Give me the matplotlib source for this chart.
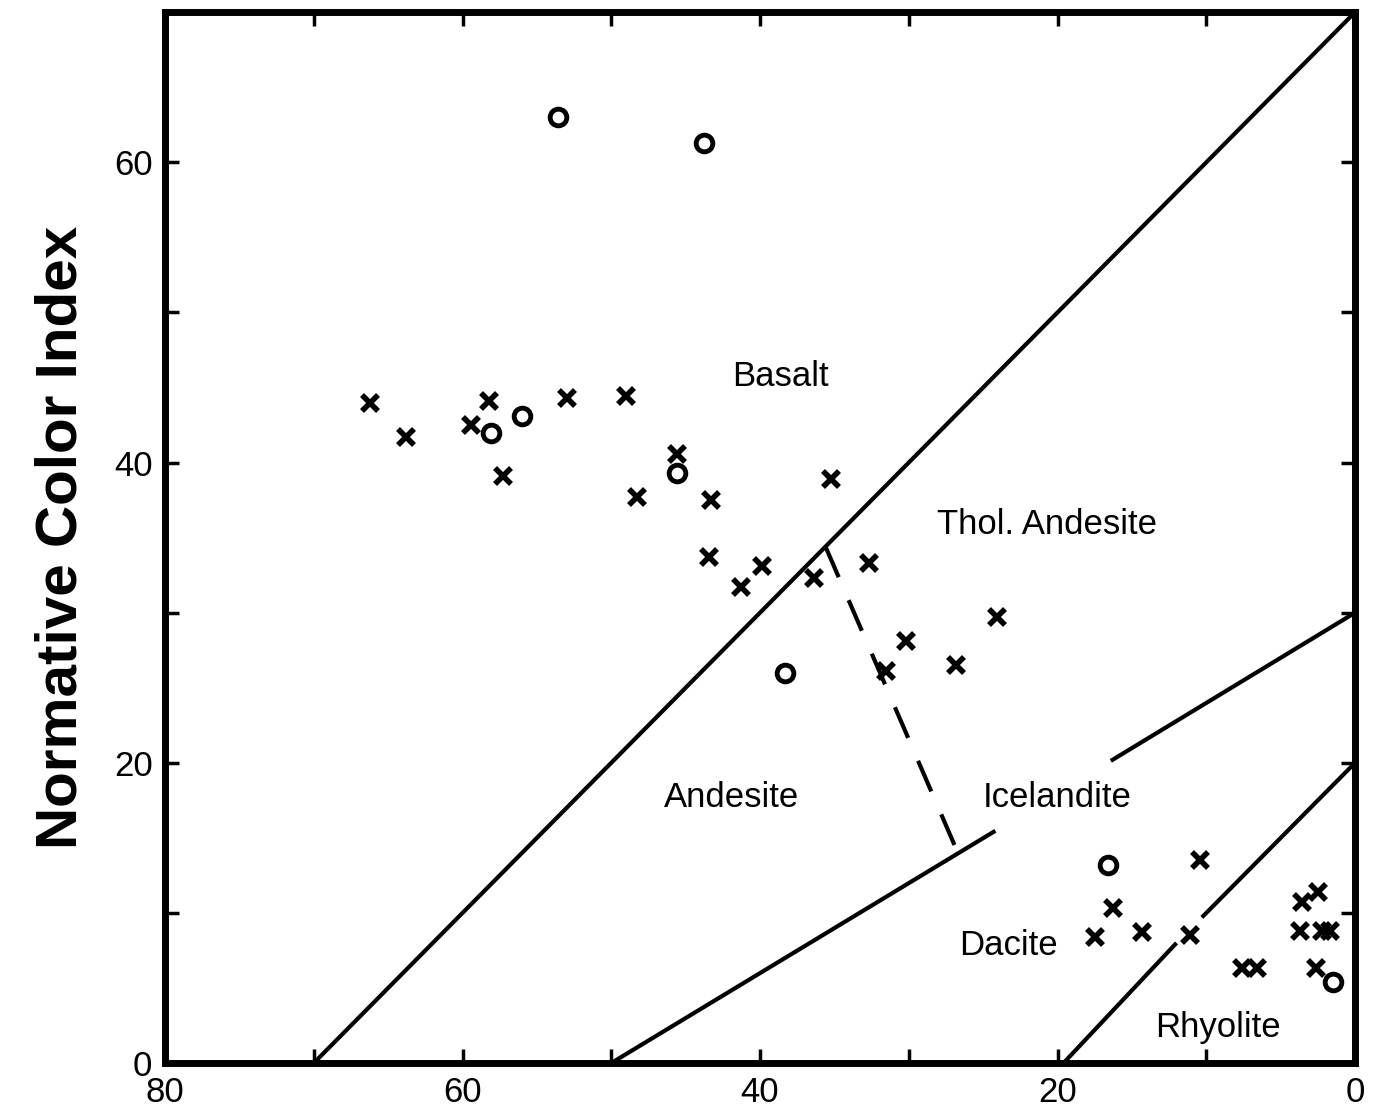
import matplotlib
matplotlib.use("Agg")
import matplotlib.pyplot as plt

# Data (x: normative plagioclase-ish axis reading, y: Normative Color Index)
cross_x = [66.2, 63.8, 59.4, 58.2, 57.3, 53.0, 49.0, 45.6, 48.3, 43.3, 43.4, 41.3,
           39.9, 35.2, 36.4, 32.7, 30.2, 31.5, 26.8, 24.1, 10.4, 16.3, 17.5, 14.3,
           11.1, 7.6, 6.6, 3.6, 2.5, 3.7, 2.2, 1.7, 2.6]
cross_y = [44.0, 41.7, 42.5, 44.1, 39.1, 44.3, 44.4, 40.6, 37.7, 37.5, 33.7, 31.7,
           33.1, 38.9, 32.3, 33.3, 28.1, 26.1, 26.5, 29.7, 13.5, 10.3, 8.4, 8.7,
           8.5, 6.3, 6.3, 10.7, 11.4, 8.8, 8.8, 8.8, 6.3]
circle_x = [53.6, 43.8, 58.1, 56.0, 45.6, 38.3, 16.6, 1.5]
circle_y = [63.0, 61.3, 42.0, 43.1, 39.3, 26.0, 13.2, 5.4]

# Boundary lines (segments)
basalt_line_x = [70, 0]
basalt_line_y = [0, 70]
dacite_line1_x = [50, 24.3]
dacite_line1_y = [0, 15.4]
dacite_line2_x = [16.3, 0]
dacite_line2_y = [20.2, 30]
rhyo_line1_x = [19.6, 12.1]
rhyo_line1_y = [0, 7.9]
rhyo_line2_x = [10.2, 0]
rhyo_line2_y = [9.8, 20]
dash_x = [35.6, 26.7]
dash_y = [34.4, 14.0]

labels = ["Basalt", "Thol. Andesite", "Andesite", "Icelandite", "Dacite", "Rhyolite"]
label_x = [38.6, 20.7, 41.9, 20.0, 23.3, 9.2]
label_y = [45.7, 35.9, 17.7, 17.7, 7.8, 2.4]

xticks = [80, 60, 40, 20, 0]
yticks = [0, 20, 40, 60]

plt.rcParams['font.family'] = ['Liberation Sans', 'DejaVu Sans']

fig = plt.figure(figsize=(13.75, 11.07), dpi=100)
ax = fig.add_axes([0.12, 0.0397, 0.8655, 0.9493])
ax.set_xlim(80, 0)
ax.set_ylim(0, 70)

lw = 3
ax.plot(basalt_line_x, basalt_line_y, color='black', lw=lw)
ax.plot(dacite_line1_x, dacite_line1_y, color='black', lw=lw)
ax.plot(dacite_line2_x, dacite_line2_y, color='black', lw=lw)
ax.plot(rhyo_line1_x, rhyo_line1_y, color='black', lw=lw)
ax.plot(rhyo_line2_x, rhyo_line2_y, color='black', lw=lw)
ax.plot(dash_x, dash_y, color='black', lw=lw, linestyle=(0, (8, 6)))

ax.plot(cross_x, cross_y, linestyle='none', marker='x', color='black',
        markersize=11, markeredgewidth=4)
ax.plot(circle_x, circle_y, linestyle='none', marker='o', markerfacecolor='none',
        markeredgecolor='black', markersize=12, markeredgewidth=3.5)

for t, x, y in zip(labels, label_x, label_y):
    ax.text(x, y, t, ha='center', va='center', fontsize=25, color='black')

ax.set_xticks(xticks)
ax.set_yticks(yticks)
ax.set_xticks(range(10, 80, 10), minor=True)
ax.set_yticks(range(10, 70, 10), minor=True)
ax.tick_params(which='both', direction='in', top=True, right=True,
               width=2.5, color='black')
ax.tick_params(which='major', length=10, labelsize=25)
ax.tick_params(axis='y', which='major', pad=9)
ax.tick_params(axis='x', which='major', pad=9, labeltop=False)
ax.tick_params(which='minor', length=10)
for s in ax.spines.values():
    s.set_linewidth(5)

ax.set_ylabel("Normative Color Index", fontsize=42, fontweight='bold',
              labelpad=18)

fig.savefig("out.png", dpi=100)
